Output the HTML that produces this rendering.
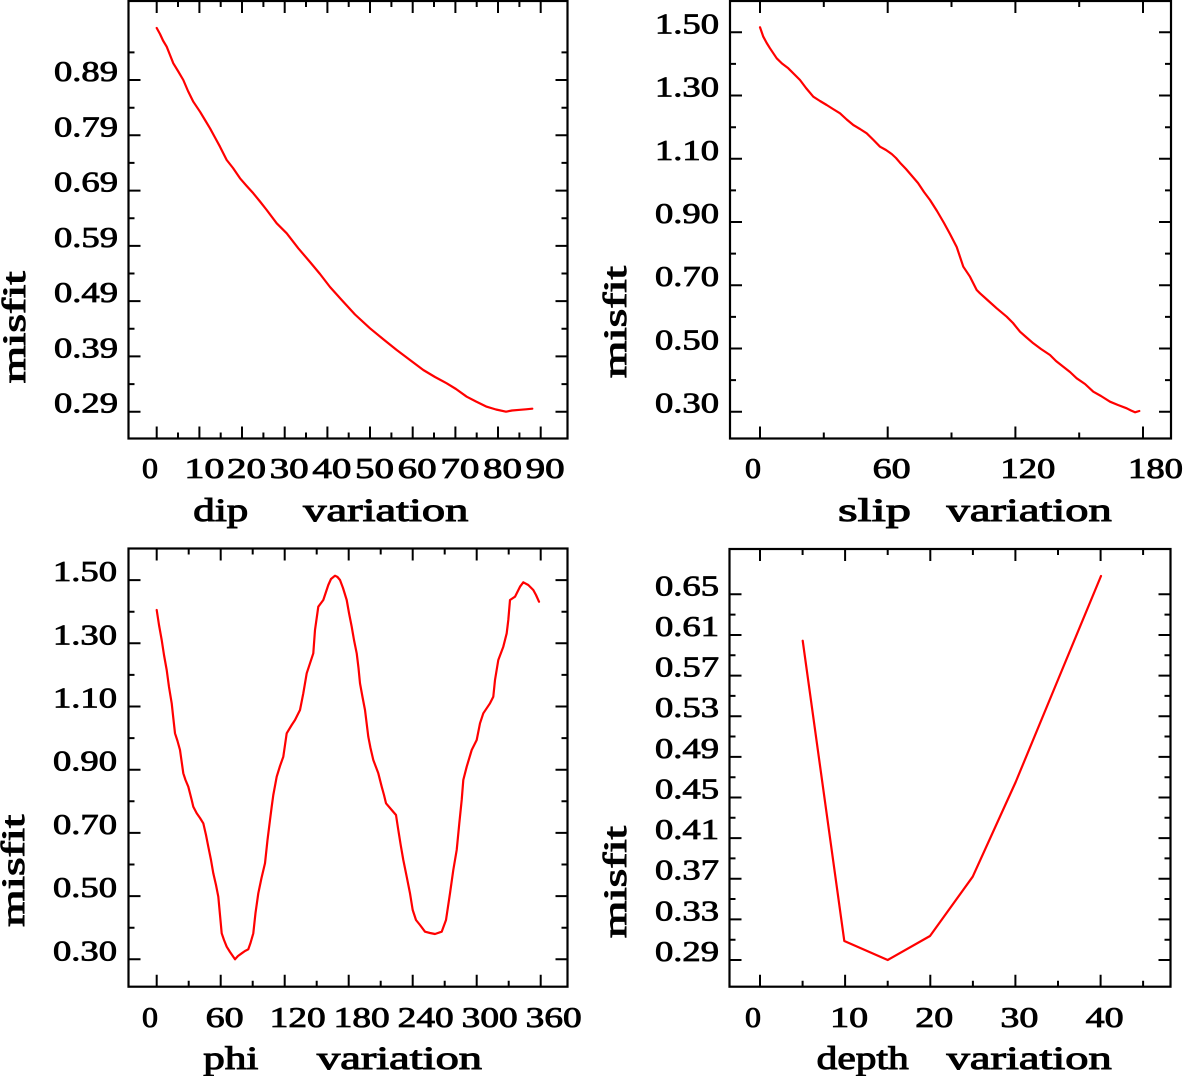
<!DOCTYPE html>
<html><head><meta charset="utf-8"><style>
html,body{margin:0;padding:0;background:#fff;}
svg{display:block;}
text{font-family:"Liberation Serif",serif;font-weight:normal;fill:#000;stroke:#000;}
.t{font-size:28px;stroke-width:0.8px;}
.a{font-size:33px;stroke-width:1px;}
</style></head><body>
<svg width="1183" height="1076" viewBox="0 0 1183 1076" xmlns="http://www.w3.org/2000/svg">
<g fill="none" stroke="#000" stroke-width="2.2">
<rect x="128.5" y="1" width="439" height="437.5"/>
<rect x="730" y="1" width="441" height="437.5"/>
<rect x="128.5" y="548.5" width="439" height="438.2"/>
<rect x="729.5" y="549" width="441" height="437.7"/>
</g>
<g fill="none" stroke="#000" stroke-width="2">
<path d="M156.7 438.5V426.5M156.7 1V13 M178 438.5V432.5M178 1V7 M199.4 438.5V426.5M199.4 1V13 M220.7 438.5V432.5M220.7 1V7 M242 438.5V426.5M242 1V13 M263.4 438.5V432.5M263.4 1V7 M284.7 438.5V426.5M284.7 1V13 M306 438.5V432.5M306 1V7 M327.4 438.5V426.5M327.4 1V13 M348.7 438.5V432.5M348.7 1V7 M370 438.5V426.5M370 1V13 M391.4 438.5V432.5M391.4 1V7 M412.7 438.5V426.5M412.7 1V13 M434 438.5V432.5M434 1V7 M455.4 438.5V426.5M455.4 1V13 M476.7 438.5V432.5M476.7 1V7 M498 438.5V426.5M498 1V13 M519.4 438.5V432.5M519.4 1V7 M540.7 438.5V426.5M540.7 1V13"/>
<path d="M128.5 411.7H140.5M567.5 411.7H555.5 M128.5 384.1H134.5M567.5 384.1H561.5 M128.5 356.4H140.5M567.5 356.4H555.5 M128.5 328.8H134.5M567.5 328.8H561.5 M128.5 301.1H140.5M567.5 301.1H555.5 M128.5 273.5H134.5M567.5 273.5H561.5 M128.5 245.9H140.5M567.5 245.9H555.5 M128.5 218.2H134.5M567.5 218.2H561.5 M128.5 190.6H140.5M567.5 190.6H555.5 M128.5 162.9H134.5M567.5 162.9H561.5 M128.5 135.3H140.5M567.5 135.3H555.5 M128.5 107.7H134.5M567.5 107.7H561.5 M128.5 80H140.5M567.5 80H555.5 M128.5 52.4H134.5M567.5 52.4H561.5"/>
<path d="M760 438.5V426.5M760 1V13 M823.8 438.5V432.5M823.8 1V7 M887.7 438.5V426.5M887.7 1V13 M951.5 438.5V432.5M951.5 1V7 M1015.4 438.5V426.5M1015.4 1V13 M1079.2 438.5V432.5M1079.2 1V7 M1143 438.5V426.5M1143 1V13"/>
<path d="M730 411.7H742M1171 411.7H1159 M730 380.1H736M1171 380.1H1165 M730 348.5H742M1171 348.5H1159 M730 316.9H736M1171 316.9H1165 M730 285.2H742M1171 285.2H1159 M730 253.6H736M1171 253.6H1165 M730 222H742M1171 222H1159 M730 190.4H736M1171 190.4H1165 M730 158.8H742M1171 158.8H1159 M730 127.2H736M1171 127.2H1165 M730 95.5H742M1171 95.5H1159 M730 63.9H736M1171 63.9H1165 M730 32.3H742M1171 32.3H1159"/>
<path d="M156.7 986.7V974.7M156.7 548.5V560.5 M188.7 986.7V980.7M188.7 548.5V554.5 M220.7 986.7V974.7M220.7 548.5V560.5 M252.7 986.7V980.7M252.7 548.5V554.5 M284.7 986.7V974.7M284.7 548.5V560.5 M316.7 986.7V980.7M316.7 548.5V554.5 M348.7 986.7V974.7M348.7 548.5V560.5 M380.7 986.7V980.7M380.7 548.5V554.5 M412.7 986.7V974.7M412.7 548.5V560.5 M444.7 986.7V980.7M444.7 548.5V554.5 M476.7 986.7V974.7M476.7 548.5V560.5 M508.7 986.7V980.7M508.7 548.5V554.5 M540.7 986.7V974.7M540.7 548.5V560.5"/>
<path d="M128.5 959.3H140.5M567.5 959.3H555.5 M128.5 927.7H134.5M567.5 927.7H561.5 M128.5 896.1H140.5M567.5 896.1H555.5 M128.5 864.5H134.5M567.5 864.5H561.5 M128.5 832.9H140.5M567.5 832.9H555.5 M128.5 801.3H134.5M567.5 801.3H561.5 M128.5 769.7H140.5M567.5 769.7H555.5 M128.5 738.1H134.5M567.5 738.1H561.5 M128.5 706.5H140.5M567.5 706.5H555.5 M128.5 674.9H134.5M567.5 674.9H561.5 M128.5 643.3H140.5M567.5 643.3H555.5 M128.5 611.7H134.5M567.5 611.7H561.5 M128.5 580.1H140.5M567.5 580.1H555.5"/>
<path d="M760 986.7V974.7M760 549V561 M802.6 986.7V980.7M802.6 549V555 M845.1 986.7V974.7M845.1 549V561 M887.7 986.7V980.7M887.7 549V555 M930.3 986.7V974.7M930.3 549V561 M972.9 986.7V980.7M972.9 549V555 M1015.4 986.7V974.7M1015.4 549V561 M1058 986.7V980.7M1058 549V555 M1100.6 986.7V974.7M1100.6 549V561 M1143.1 986.7V980.7M1143.1 549V555"/>
<path d="M729.5 960H741.5M1170.5 960H1158.5 M729.5 939.7H735.5M1170.5 939.7H1164.5 M729.5 919.4H741.5M1170.5 919.4H1158.5 M729.5 899H735.5M1170.5 899H1164.5 M729.5 878.7H741.5M1170.5 878.7H1158.5 M729.5 858.4H735.5M1170.5 858.4H1164.5 M729.5 838.1H741.5M1170.5 838.1H1158.5 M729.5 817.8H735.5M1170.5 817.8H1164.5 M729.5 797.5H741.5M1170.5 797.5H1158.5 M729.5 777.2H735.5M1170.5 777.2H1164.5 M729.5 756.9H741.5M1170.5 756.9H1158.5 M729.5 736.5H735.5M1170.5 736.5H1164.5 M729.5 716.2H741.5M1170.5 716.2H1158.5 M729.5 695.9H735.5M1170.5 695.9H1164.5 M729.5 675.6H741.5M1170.5 675.6H1158.5 M729.5 655.3H735.5M1170.5 655.3H1164.5 M729.5 635H741.5M1170.5 635H1158.5 M729.5 614.6H735.5M1170.5 614.6H1164.5 M729.5 594.3H741.5M1170.5 594.3H1158.5"/>
</g>

<g fill="none" stroke="#ff0000" stroke-width="2.2" stroke-linejoin="round" stroke-linecap="round">
<polyline points="156.7,28 160,34 163,40.5 166.7,46.7 170,55 173.3,63.3 178,71 183.3,80 188,91 193.3,101.7 200,111.7 205,120 210,128.3 215,137.5 220,146.7 226.7,160 233,168 240,178.3 246.7,186 253.3,193.3 260,201.5 266.7,210 276.7,223.3 286.7,233.3 298.3,248.3 310,262 320,274 330,287 341.7,300 355,314.5 370,328.3 383,339 396.7,350 410,360 423.3,370 435,377 446.7,383.3 456,389 466.7,396.7 476,401.5 486.7,406.7 496,409.5 506,411.7 512,410.5 520,409.8 526,409.3 532.3,408.7"/>
<polyline points="760,27.3 763.3,36.7 766.7,43 770,48.3 776.7,58.3 782,63.5 788.3,68.3 794,74 800,80 806,88 813.3,96.7 820,101 826.7,105 833,109 840,113.3 846.7,119.5 853.3,125 860,129 866.7,133.3 873,139.5 880,146.7 886,150 891.7,154 896,158 900,162.7 906,169 912,176 918,183 924,192 930,200 937,211 944,223 950,234 956.7,247 963.3,266.7 970,276.7 976.7,290 980,293.3 988,300.5 996.7,308.3 1006.7,316.7 1013,323 1020,331.7 1026,337 1033.3,343.3 1041,349 1050,355 1056,361 1063.3,366.7 1070,372 1076.7,378.3 1085,384 1093.3,391.7 1101,396 1110,401.7 1118,405 1126.7,408.3 1131,410.5 1135,412.3 1139.3,411"/>
<polyline points="156.7,610 159,625 161.7,640 164,655 166.7,670 169,687 171.7,703.3 173.3,718 175,733.3 177.5,741 180,750 183.3,773.3 185.5,780 188.3,786.7 191.7,800 193.3,806.7 196.7,813.3 200,818 203.3,823.3 206,835 208.3,846.7 211,860 213.3,873.3 216,885 218.3,896.7 220,915 221.7,933.3 224,940 226.7,946.7 230,952 235,959.3 238,956 241.7,953.3 245,951 248.3,949.3 250.5,943 253.3,933.3 255.5,913 258.3,893.3 261.5,878 265,863.3 267.5,840 270,820 271.7,806.7 273.3,795 276.7,776.7 280,766 283.3,756.7 285,745 286.7,733.3 291.7,725 295,720 300,710 303.3,693.3 306.7,673.3 310,663.3 313.3,653.3 315,630 318.3,606.7 323.3,600 328.3,585 331,579 335,575.7 337.5,577 340,580 343,588 346.7,600 349,613 351.7,626.7 354,640 356.7,653.3 358.5,668 360,683.3 362.5,697 365,710 368.3,736.7 370.5,748 373.3,760 378.3,773.3 381.7,786.7 384,795 386,803.3 391.7,810 396,815 398.3,830 400.7,845 403.3,860 406.7,876.7 410,893.3 412.7,910 416,920 420,925 425,931.7 430,933 435,934 441.7,931.7 446,920 450,893.3 453.3,870 456.7,850 459.3,823.3 461.7,800 463.3,780 466.7,766.7 471.7,750 476.7,740 480,723.3 483.3,713.3 490,703.3 493.3,696.7 495,680 498.3,660 503.3,646.7 506.7,633.3 508.3,620 510,600 515,596.7 520,586.7 523.3,582.3 528.3,585 533.3,590 536,595 539,601.7"/>
<polyline points="802.7,640.7 844.3,941 887.7,960 930,936 972.7,876.7 1015.7,782 1058.3,679 1101,576"/>
</g>

<g class="t" text-anchor="end">
<text x="118" y="412.7" textLength="64" lengthAdjust="spacingAndGlyphs">0.29</text>
<text x="118" y="357.4" textLength="64" lengthAdjust="spacingAndGlyphs">0.39</text>
<text x="118" y="302.1" textLength="64" lengthAdjust="spacingAndGlyphs">0.49</text>
<text x="118" y="246.9" textLength="64" lengthAdjust="spacingAndGlyphs">0.59</text>
<text x="118" y="191.6" textLength="64" lengthAdjust="spacingAndGlyphs">0.69</text>
<text x="118" y="136.3" textLength="64" lengthAdjust="spacingAndGlyphs">0.79</text>
<text x="118" y="81" textLength="64" lengthAdjust="spacingAndGlyphs">0.89</text>
</g>
<g class="t" text-anchor="end">
<text x="719" y="412.7" textLength="64" lengthAdjust="spacingAndGlyphs">0.30</text>
<text x="719" y="349.5" textLength="64" lengthAdjust="spacingAndGlyphs">0.50</text>
<text x="719" y="286.2" textLength="64" lengthAdjust="spacingAndGlyphs">0.70</text>
<text x="719" y="223" textLength="64" lengthAdjust="spacingAndGlyphs">0.90</text>
<text x="719" y="159.8" textLength="64" lengthAdjust="spacingAndGlyphs">1.10</text>
<text x="719" y="96.5" textLength="64" lengthAdjust="spacingAndGlyphs">1.30</text>
<text x="719" y="33.3" textLength="64" lengthAdjust="spacingAndGlyphs">1.50</text>
</g>
<g class="t" text-anchor="end">
<text x="117" y="960.3" textLength="64" lengthAdjust="spacingAndGlyphs">0.30</text>
<text x="117" y="897.1" textLength="64" lengthAdjust="spacingAndGlyphs">0.50</text>
<text x="117" y="833.9" textLength="64" lengthAdjust="spacingAndGlyphs">0.70</text>
<text x="117" y="770.7" textLength="64" lengthAdjust="spacingAndGlyphs">0.90</text>
<text x="117" y="707.5" textLength="64" lengthAdjust="spacingAndGlyphs">1.10</text>
<text x="117" y="644.3" textLength="64" lengthAdjust="spacingAndGlyphs">1.30</text>
<text x="117" y="581.1" textLength="64" lengthAdjust="spacingAndGlyphs">1.50</text>
</g>
<g class="t" text-anchor="end">
<text x="719" y="961" textLength="64" lengthAdjust="spacingAndGlyphs">0.29</text>
<text x="719" y="920.4" textLength="64" lengthAdjust="spacingAndGlyphs">0.33</text>
<text x="719" y="879.7" textLength="64" lengthAdjust="spacingAndGlyphs">0.37</text>
<text x="719" y="839.1" textLength="64" lengthAdjust="spacingAndGlyphs">0.41</text>
<text x="719" y="798.5" textLength="64" lengthAdjust="spacingAndGlyphs">0.45</text>
<text x="719" y="757.9" textLength="64" lengthAdjust="spacingAndGlyphs">0.49</text>
<text x="719" y="717.2" textLength="64" lengthAdjust="spacingAndGlyphs">0.53</text>
<text x="719" y="676.6" textLength="64" lengthAdjust="spacingAndGlyphs">0.57</text>
<text x="719" y="636" textLength="64" lengthAdjust="spacingAndGlyphs">0.61</text>
<text x="719" y="595.3" textLength="64" lengthAdjust="spacingAndGlyphs">0.65</text>
</g>

<g class="t">
<text x="142" y="478" textLength="16" lengthAdjust="spacingAndGlyphs">0</text>
<text x="184.4" y="478" textLength="40" lengthAdjust="spacingAndGlyphs">10</text>
<text x="227" y="478" textLength="39" lengthAdjust="spacingAndGlyphs">20</text>
<text x="269.7" y="478" textLength="39" lengthAdjust="spacingAndGlyphs">30</text>
<text x="312.4" y="478" textLength="39" lengthAdjust="spacingAndGlyphs">40</text>
<text x="355" y="478" textLength="39" lengthAdjust="spacingAndGlyphs">50</text>
<text x="397.7" y="478" textLength="39" lengthAdjust="spacingAndGlyphs">60</text>
<text x="440.4" y="478" textLength="39" lengthAdjust="spacingAndGlyphs">70</text>
<text x="483" y="478" textLength="39" lengthAdjust="spacingAndGlyphs">80</text>
<text x="525.7" y="478" textLength="39" lengthAdjust="spacingAndGlyphs">90</text>

<text x="745" y="478" textLength="16" lengthAdjust="spacingAndGlyphs">0</text>
<text x="872.7" y="478" textLength="38" lengthAdjust="spacingAndGlyphs">60</text>
<text x="1000.4" y="478" textLength="55" lengthAdjust="spacingAndGlyphs">120</text>
<text x="1128" y="478" textLength="55" lengthAdjust="spacingAndGlyphs">180</text>

<text x="142" y="1027" textLength="16" lengthAdjust="spacingAndGlyphs">0</text>
<text x="205.7" y="1027" textLength="38" lengthAdjust="spacingAndGlyphs">60</text>
<text x="269.7" y="1027" textLength="56" lengthAdjust="spacingAndGlyphs">120</text>
<text x="333.7" y="1027" textLength="56" lengthAdjust="spacingAndGlyphs">180</text>
<text x="397.7" y="1027" textLength="56" lengthAdjust="spacingAndGlyphs">240</text>
<text x="461.7" y="1027" textLength="56" lengthAdjust="spacingAndGlyphs">300</text>
<text x="525.7" y="1027" textLength="56" lengthAdjust="spacingAndGlyphs">360</text>

<text x="745" y="1027" textLength="16" lengthAdjust="spacingAndGlyphs">0</text>
<text x="830.1" y="1027" textLength="38" lengthAdjust="spacingAndGlyphs">10</text>
<text x="915.3" y="1027" textLength="38" lengthAdjust="spacingAndGlyphs">20</text>
<text x="1000.4" y="1027" textLength="38" lengthAdjust="spacingAndGlyphs">30</text>
<text x="1085.6" y="1027" textLength="38" lengthAdjust="spacingAndGlyphs">40</text>
</g>

<g class="a">
<text x="193.3" y="521" textLength="55" lengthAdjust="spacingAndGlyphs">dip</text>
<text x="303.3" y="521" textLength="165" lengthAdjust="spacingAndGlyphs">variation</text>
<text x="838" y="521" textLength="73" lengthAdjust="spacingAndGlyphs">slip</text>
<text x="946.7" y="521" textLength="165" lengthAdjust="spacingAndGlyphs">variation</text>
<text x="203.3" y="1069" textLength="55" lengthAdjust="spacingAndGlyphs">phi</text>
<text x="317" y="1069" textLength="165" lengthAdjust="spacingAndGlyphs">variation</text>
<text x="816.7" y="1069" textLength="92" lengthAdjust="spacingAndGlyphs">depth</text>
<text x="946.7" y="1069" textLength="165" lengthAdjust="spacingAndGlyphs">variation</text>

<text transform="translate(25,383.3) rotate(-90)" x="0" y="0" textLength="112" lengthAdjust="spacingAndGlyphs">misfit</text>
<text transform="translate(626,378) rotate(-90)" x="0" y="0" textLength="112" lengthAdjust="spacingAndGlyphs">misfit</text>
<text transform="translate(24,926.7) rotate(-90)" x="0" y="0" textLength="112" lengthAdjust="spacingAndGlyphs">misfit</text>
<text transform="translate(626,938) rotate(-90)" x="0" y="0" textLength="112" lengthAdjust="spacingAndGlyphs">misfit</text>
</g>
</svg>
</body></html>
